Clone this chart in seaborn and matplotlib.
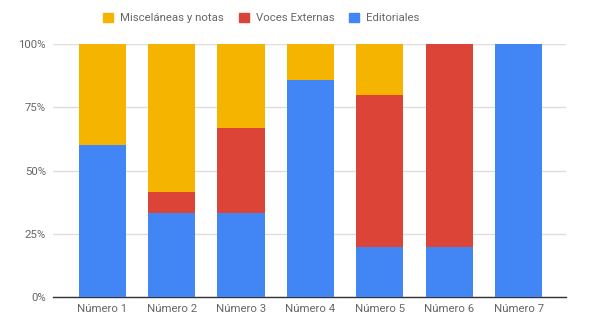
import numpy as np
import pandas as pd
import matplotlib
matplotlib.use('Agg')
import matplotlib.pyplot as plt
import seaborn as sns
from matplotlib.patches import Patch

numeros = ['Número 1', 'Número 2', 'Número 3', 'Número 4', 'Número 5', 'Número 6', 'Número 7']
editoriales = [60.0, 33.3, 33.3, 85.7, 20.0, 20.0, 100.0]
voces = [0.0, 8.4, 33.4, 0.0, 60.0, 80.0, 0.0]
miscelaneas = [40.0, 58.3, 33.3, 14.3, 20.0, 0.0, 0.0]

c_blue = '#4285F4'
c_red = '#DB4437'
c_yellow = '#F4B400'
grey = '#666666'

df = pd.DataFrame({'numero': numeros, 'ed': editoriales, 'vo': voces, 'mi': miscelaneas})
df['ed_vo'] = df['ed'] + df['vo']
df['total'] = df['ed_vo'] + df['mi']

sns.set_theme(style='white')
plt.rcParams['font.family'] = ['Roboto', 'DejaVu Sans']

fig, ax = plt.subplots(figsize=(6.02, 3.34), dpi=100)
fig.subplots_adjust(left=0.088, right=0.94, top=0.868, bottom=0.11)

# stacked via cumulative layers
sns.barplot(data=df, x='numero', y='total', order=numeros, color=c_yellow, width=0.68,
            saturation=1, ax=ax, zorder=2)
sns.barplot(data=df, x='numero', y='ed_vo', order=numeros, color=c_red, width=0.68,
            saturation=1, ax=ax, zorder=3)
sns.barplot(data=df, x='numero', y='ed', order=numeros, color=c_blue, width=0.68,
            saturation=1, ax=ax, zorder=4)
for p in ax.patches:
    p.set_edgecolor('none')

ax.set_ylim(0, 100)
ax.set_xlim(-0.71, 6.68)
ax.set_yticks([0, 25, 50, 75, 100])
ax.set_yticklabels(['0%', '25%', '50%', '75%', '100%'])
ax.yaxis.grid(True, color='#dddddd', linewidth=1, zorder=0)
ax.set_axisbelow(True)
ax.set_xlabel('')
ax.set_ylabel('')
for s in ['top', 'right', 'left']:
    ax.spines[s].set_visible(False)
ax.spines['bottom'].set_color('#333333')
ax.spines['bottom'].set_linewidth(1)
ax.tick_params(axis='both', length=0, labelsize=8.2, labelcolor=grey, pad=5)

handles = [Patch(color=c_yellow, label='Misceláneas y notas'),
           Patch(color=c_red, label='Voces Externas'),
           Patch(color=c_blue, label='Editoriales')]
leg = fig.legend(handles=handles, loc='center', bbox_to_anchor=(0.434, 0.946), ncol=3,
                 frameon=False, fontsize=8.2, handlelength=0.9, handleheight=0.9,
                 handletextpad=0.6, columnspacing=1.3)
for t in leg.get_texts():
    t.set_color(grey)

fig.savefig('out.png', dpi=100)
